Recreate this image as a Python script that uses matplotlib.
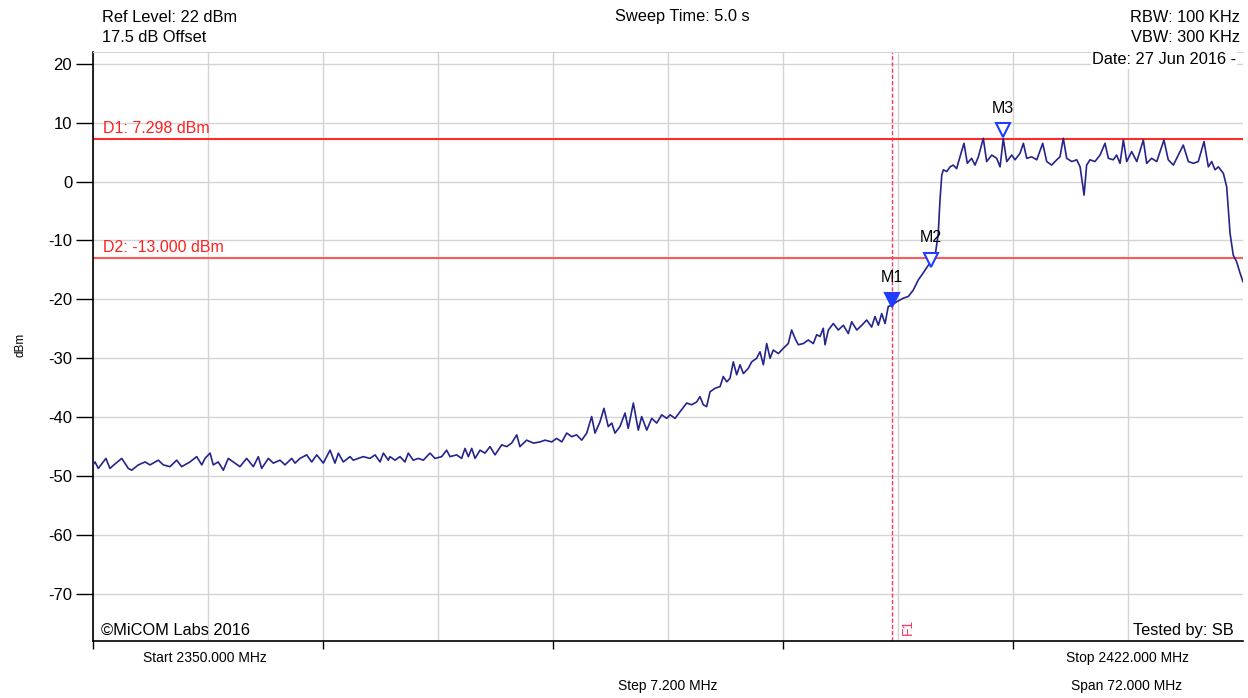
import matplotlib
matplotlib.use("Agg")
from matplotlib import pyplot as plt
import numpy as np

plt.rcParams['font.family'] = ['Liberation Sans', 'DejaVu Sans']
plt.rcParams['axes.unicode_minus'] = False

# sweep: frequency (MHz) and level (dBm)
freq_mhz = [
    2350.00, 2350.13, 2350.33, 2350.81, 2351.06, 2351.31, 2351.80, 2352.21, 2352.42, 2352.84,
    2353.26, 2353.57, 2354.09, 2354.40, 2354.82, 2355.24, 2355.55, 2356.07, 2356.49, 2356.81,
    2357.01, 2357.33, 2357.53, 2357.84, 2358.16, 2358.47, 2358.78, 2359.20, 2359.62, 2360.04,
    2360.35, 2360.56, 2360.98, 2361.29, 2361.71, 2362.02, 2362.44, 2362.65, 2362.96, 2363.38,
    2363.69, 2364.01, 2364.42, 2364.84, 2365.15, 2365.36, 2365.67, 2366.09, 2366.30, 2366.61,
    2366.92, 2367.34, 2367.66, 2367.97, 2368.18, 2368.49,
    2368.59, 2368.91, 2369.22, 2369.53, 2369.74, 2370.05, 2370.37, 2370.68, 2371.10, 2371.41,
    2371.83, 2372.14, 2372.35, 2372.77, 2373.08, 2373.29, 2373.50, 2373.71, 2373.92, 2374.23,
    2374.54, 2374.86, 2375.17, 2375.59, 2375.90, 2376.21, 2376.53, 2376.73, 2377.15, 2377.57,
    2377.99, 2378.30, 2378.72, 2379.03, 2379.35, 2379.66, 2379.97, 2380.28, 2380.60, 2380.91,
    2381.22, 2381.43, 2381.74, 2381.99, 2382.26, 2382.48, 2382.68, 2382.99, 2383.31, 2383.51,
    2383.83, 2384.14, 2384.35, 2384.67, 2384.98, 2385.29, 2385.61, 2385.92,
    2386.13, 2386.44, 2386.75, 2387.17, 2387.48, 2387.80, 2388.00, 2388.21, 2388.42, 2388.63,
    2388.94, 2389.26, 2389.46, 2389.68, 2389.88, 2390.09, 2390.30, 2390.51, 2390.72, 2391.03,
    2391.24, 2391.55, 2391.76, 2391.97, 2392.18, 2392.39, 2392.59, 2392.91, 2393.22, 2393.53,
    2393.74, 2393.95, 2394.16, 2394.47, 2394.78, 2395.10, 2395.31, 2395.52, 2395.72, 2395.83,
    2396.04, 2396.35, 2396.66, 2396.98, 2397.29, 2397.50, 2397.82, 2398.13, 2398.44, 2398.75,
    2398.96, 2399.17, 2399.38, 2399.59, 2399.79, 2400.01, 2400.32, 2400.73, 2401.05,
    2401.36, 2401.67, 2401.98, 2402.30, 2402.51, 2402.72, 2402.92, 2403.03, 2403.14, 2403.24,
    2403.45, 2403.66, 2403.86, 2404.07, 2404.28, 2404.53, 2404.74, 2405.01, 2405.22, 2405.43,
    2405.74, 2405.95, 2406.27, 2406.58, 2406.79, 2406.99, 2407.21, 2407.52, 2407.73, 2408.04,
    2408.25, 2408.46, 2408.77, 2409.09, 2409.46, 2409.71, 2410.02, 2410.34, 2410.54, 2410.75,
    2410.96, 2411.28, 2411.59, 2411.80, 2412.05, 2412.21, 2412.42, 2412.73, 2413.05, 2413.36,
    2413.57, 2413.88, 2414.09, 2414.30, 2414.51, 2414.72, 2415.03, 2415.35, 2415.76, 2415.97,
    2416.28, 2416.60, 2417.05, 2417.32, 2417.64, 2417.85, 2418.26, 2418.58, 2418.89, 2419.20,
    2419.56, 2419.83, 2420.04, 2420.25, 2420.46, 2420.77, 2420.98, 2421.19, 2421.39, 2421.60,
    2421.81, 2422.00]

level_dbm = [
    -48.1, -47.6, -48.7, -47.0, -48.7, -48.1, -47.0, -48.7, -49.0, -48.1,
    -47.6, -48.1, -47.3, -48.1, -48.4, -47.3, -48.4, -47.6, -46.7, -48.1,
    -47.0, -46.1, -48.1, -47.6, -49.0, -47.0, -47.6, -48.4, -47.0, -48.4,
    -46.7, -48.7, -47.0, -47.8, -47.3, -48.1, -47.0, -47.8, -47.0, -46.4,
    -47.6, -46.4, -47.8, -45.6, -47.8, -46.1, -47.6, -46.7, -47.3, -47.0,
    -46.7, -47.0, -46.4, -47.6, -46.1, -47.3,
    -46.7, -47.3, -46.7, -47.6, -46.1, -47.3, -47.0, -47.3, -46.1, -47.0,
    -46.7, -45.6, -46.7, -46.4, -47.0, -45.3, -46.7, -45.3, -47.0, -45.6,
    -46.1, -45.0, -46.4, -44.7, -45.0, -44.4, -43.0, -45.0, -43.9, -44.4,
    -44.2, -43.9, -44.2, -43.6, -44.2, -42.7, -43.3, -43.0, -43.9, -42.7,
    -39.9, -42.7, -40.8, -38.5, -41.6, -41.0, -42.7, -41.6, -39.3, -41.9,
    -37.6, -42.2, -39.9, -42.2, -40.2, -41.0, -39.6, -40.2,
    -39.6, -40.2, -39.1, -37.6, -37.9, -37.4, -36.5, -37.9, -38.2, -35.7,
    -35.1, -34.8, -33.1, -34.0, -33.4, -30.6, -32.8, -31.1, -32.6, -31.7,
    -30.6, -30.0, -28.9, -31.1, -27.5, -30.0, -28.6, -29.2, -28.3, -27.5,
    -25.2, -26.6, -27.7, -27.5, -26.9, -27.5, -26.0, -26.3, -24.9, -27.7,
    -25.2, -24.1, -25.2, -24.4, -25.8, -23.8, -25.2, -24.4, -23.5, -24.7,
    -22.9, -24.4, -22.4, -24.1, -21.2, -21.0, -20.4, -19.8, -19.5,
    -18.4, -16.7, -15.5, -14.2, -13.5, -12.7, -8.8, -3.1, 1.1, 2.0,
    1.7, 2.5, 2.8, 2.2, 4.2, 6.5, 3.1, 3.95, 2.8, 4.2,
    7.35, 3.4, 4.5, 3.95, 2.5, 7.3, 3.4, 4.5, 3.7, 4.8,
    6.5, 3.95, 4.2, 3.7, 6.5, 3.4, 2.8, 3.7, 4.2, 7.35,
    3.95, 3.4, 3.7, 2.5, -2.3, 2.8, 3.7, 3.4, 4.5, 6.5,
    3.95, 3.7, 4.5, 3.1, 7.06, 3.4, 5.1, 3.4, 7.06, 3.1,
    3.95, 3.4, 7.06, 3.7, 2.8, 3.95, 6.2, 3.4, 3.1, 3.4,
    6.8, 2.5, 3.4, 2.0, 2.5, 1.4, -0.9, -8.8, -12.5, -13.6,
    -15.5, -17.0]

# display lines and markers
d_names = ['D1: 7.298 dBm', 'D2: -13.000 dBm']
d_levels = [7.298, -13.0]
f1_mhz = 2400.0
marker_names = ['M1', 'M2', 'M3']
marker_freq = [2400.0, 2402.47, 2406.98]
marker_level = [-20.1, -13.3, 8.7]

W, H = 1248, 698
fig = plt.figure(figsize=(W / 100, H / 100), dpi=100)
ax = fig.add_axes([93 / W, 1 - 641 / H, 1150 / W, 589 / H])

ax.set_xlim(2350, 2422)
ax.set_ylim(-78, 22)

grid_c = '#d4d4d4'
ax.set_xticks(np.arange(2350, 2410, 14.4))
ax.set_xticks(np.arange(2350, 2420, 7.2), minor=True)
ax.set_xticklabels([])
ax.set_yticks(np.arange(-70, 21, 10))
ax.tick_params(axis='x', which='major', length=6, width=1, direction='out')
ax.tick_params(axis='x', which='minor', length=0)
ax.tick_params(axis='y', length=12, width=1, labelsize=12, pad=3)
ax.grid(True, which='both', color=grid_c, lw=1)
ax.set_axisbelow(True)
ax.spines['top'].set_color(grid_c)
ax.spines['right'].set_visible(False)
ax.spines['left'].set_linewidth(1.2)
ax.spines['bottom'].set_linewidth(1.2)

# display lines
for name, lvl, col in zip(d_names, d_levels, ['#ff2a2a', '#ff5a5a']):
    ax.axhline(lvl, color=col, lw=1.5, zorder=2)
    ax.annotate(name, (2350, lvl), xytext=(7, 2), textcoords='offset points',
                color='#ff2020', fontsize=11.5, va='bottom', ha='left')

ax.axvline(f1_mhz, color='#ff3366', lw=1, ls=(0, (3, 1.5)), zorder=2)
ax.annotate('F1', (f1_mhz, -78), xytext=(7, 4), textcoords='offset points',
            color='#ff3366', fontsize=10, rotation=90, ha='left', va='bottom')

ax.plot(freq_mhz, level_dbm, color='#24248c', lw=1.2, zorder=3)

for i, (nm, f, v) in enumerate(zip(marker_names, marker_freq, marker_level)):
    face = '#1f3cff' if i == 0 else 'white'
    ax.plot(f, v, marker='v', ms=9.5, mfc=face, mec='#1f3cff', mew=1.5, zorder=4)
    ax.annotate(nm, (f, v), xytext=(0, 16), textcoords='offset points',
                ha='center', va='center', fontsize=11.5)

# header / footer texts
fs = 11.8
fig.text(102 / W, 1 - 17 / H, 'Ref Level: 22 dBm', fontsize=fs, va='center')
fig.text(102 / W, 1 - 38 / H, '17.5 dB Offset', fontsize=fs, va='center')
fig.text(682 / W, 1 - 17 / H, 'Sweep Time: 5.0 s', fontsize=fs, va='center', ha='center')
fig.text(1240 / W, 1 - 17 / H, 'RBW: 100 KHz', fontsize=fs, va='center', ha='right')
fig.text(1240 / W, 1 - 38 / H, 'VBW: 300 KHz', fontsize=fs, va='center', ha='right')
fig.text(1236 / W, 1 - 60 / H, 'Date: 27 Jun 2016 -', fontsize=fs, va='center', ha='right',
         bbox=dict(facecolor='white', edgecolor='none', pad=1))
fig.text(101 / W, 1 - 630 / H, '©MiCOM Labs 2016', fontsize=fs, va='center')
fig.text(1234 / W, 1 - 630 / H, 'Tested by: SB', fontsize=fs, va='center', ha='right')
fig.text(205 / W, 1 - 658 / H, 'Start 2350.000 MHz', fontsize=10, va='center', ha='center')
fig.text(1127 / W, 1 - 658 / H, 'Stop 2422.000 MHz', fontsize=10, va='center', ha='center')
fig.text(668 / W, 1 - 686 / H, 'Step 7.200 MHz', fontsize=10, va='center', ha='center')
fig.text(1127 / W, 1 - 686 / H, 'Span 72.000 MHz', fontsize=10, va='center', ha='center')
fig.text(20 / W, 1 - 345 / H, 'dBm', fontsize=8.5, rotation=90, va='center', ha='center')

fig.savefig('out.png', dpi=100)
